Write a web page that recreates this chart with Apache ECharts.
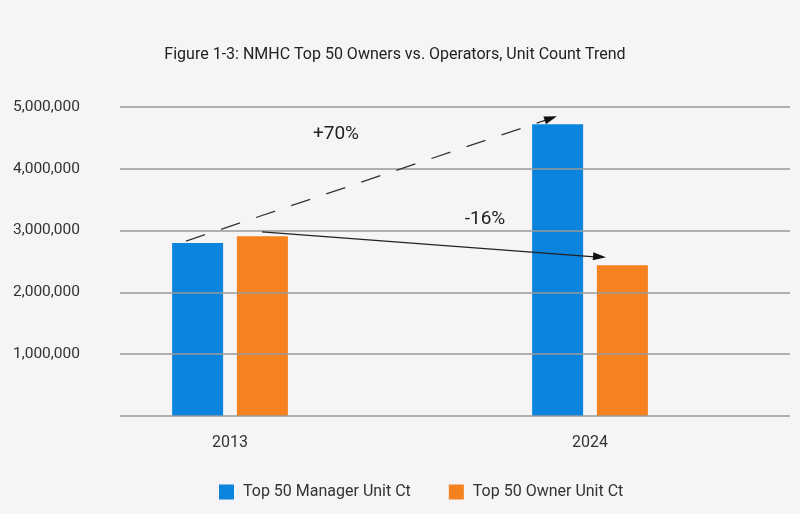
<!DOCTYPE html>
<html><head><meta charset="utf-8">
<script src="https://cdn.jsdelivr.net/npm/echarts@6/dist/echarts.min.js"></script>
<style>html,body{margin:0;padding:0;background:#f6f4f6}#c{width:800px;height:514px}</style>
</head><body><div id="c"></div>
<script>
const categories = ['2013', '2024'];
const managerUnits = [2800000, 4720000];
const ownerUnits = [2910000, 2440000];
const yTicks = [0, 1000000, 2000000, 3000000, 4000000, 5000000];
const seriesNames = ['Top 50 Manager Unit Ct', 'Top 50 Owner Unit Ct'];
const growthLabels = ['+70%', '-16%'];

const chart = echarts.init(document.getElementById('c'));
const font = 'Roboto';
const option = {
  backgroundColor: '#f6f4f6',
  animation: false,
  title: {
    text: 'Figure 1-3: NMHC Top 50 Owners vs. Operators, Unit Count Trend',
    left: 390, top: 42, textAlign: 'center',
    textStyle: {fontFamily: font, fontSize: 16, fontWeight: 'normal', color: '#222'}
  },
  legend: {
    data: seriesNames, bottom: 9, left: 214,
    itemWidth: 15, itemHeight: 15, itemGap: 38,
    icon: 'rect',
    textStyle: {fontFamily: font, fontSize: 16, color: '#333', padding: [0,0,0,4]}
  },
  grid: [
    {left: 50, right: 30, top: 107, bottom: 98},
    {left: 120, right: 10, top: 107, bottom: 98}
  ],
  xAxis: [
    {type: 'category', gridIndex: 0, data: categories,
     axisLine: {show: false}, axisTick: {show: false},
     axisLabel: {fontFamily: font, fontSize: 16, color: '#333', margin: 19}},
    {type: 'category', gridIndex: 1, data: categories, show: false}
  ],
  yAxis: [
    {type: 'value', gridIndex: 0, min: yTicks[0], max: yTicks[yTicks.length-1], interval: 1000000, show: false},
    {type: 'value', gridIndex: 1, min: yTicks[0], max: yTicks[yTicks.length-1], interval: 1000000, z: 5,
     axisLine: {show: false}, axisTick: {show: false},
     splitLine: {show: true, lineStyle: {color: '#9a9a9a', width: 1.5}},
     axisLabel: {fontFamily: font, fontSize: 15.5, color: '#333', margin: 40,
       formatter: v => v === 0 ? '' : v.toLocaleString('en-US')}}
  ],
  series: [
    {name: seriesNames[0], type: 'bar', xAxisIndex: 0, yAxisIndex: 0, data: managerUnits,
     barWidth: 51, barGap: '27%', itemStyle: {color: '#0b84dd'}},
    {name: seriesNames[1], type: 'bar', xAxisIndex: 0, yAxisIndex: 0, data: ownerUnits,
     barWidth: 51, barGap: '27%', itemStyle: {color: '#f5821f'}}
  ]
};
chart.setOption(option);

function px(catIdx, val) {
  return chart.convertToPixel({xAxisIndex: 0, yAxisIndex: 0}, [catIdx, val]);
}
function arrowHead(p0, p1, len, wid, color) {
  const dx = p1[0]-p0[0], dy = p1[1]-p0[1];
  const d = Math.hypot(dx, dy), ux = dx/d, uy = dy/d;
  const bx = p1[0]-ux*len, by = p1[1]-uy*len;
  return {type: 'polygon', z: 100, shape: {points: [p1, [bx - uy*wid/2, by + ux*wid/2], [bx + uy*wid/2, by - ux*wid/2]]},
          style: {fill: color}};
}
const a0 = px(0, managerUnits[0] + 30000); a0[0] -= 44;
const a1 = px(1, 4850000); a1[0] -= 33;
const b0 = px(0, 2980000); b0[0] += 32;
const b1 = px(1, 2570000); b1[0] += 16;
const t0 = px(0, 4560000); t0[0] += 106;
const t1 = px(1, 3180000); t1[0] -= 105;
chart.setOption({
  graphic: [
    {type: 'line', z: 100, shape: {x1: a0[0], y1: a0[1], x2: a1[0]-6, y2: a1[1]+2},
     style: {stroke: '#333', lineWidth: 1.3, lineDash: [20, 17]}},
    arrowHead(a0, a1, 13, 8, '#111'),
    {type: 'line', z: 100, shape: {x1: b0[0], y1: b0[1], x2: b1[0]-8, y2: b1[1]},
     style: {stroke: '#222', lineWidth: 1.4}},
    arrowHead(b0, b1, 13, 8, '#111'),
    {type: 'text', z: 100, x: t0[0], y: t0[1],
     style: {text: growthLabels[0], fontFamily: font, fontSize: 19, fill: '#222', align: 'center', verticalAlign: 'middle'}},
    {type: 'text', z: 100, x: t1[0], y: t1[1],
     style: {text: growthLabels[1], fontFamily: font, fontSize: 19, fill: '#222', align: 'center', verticalAlign: 'middle'}}
  ]
});
</script></body></html>
